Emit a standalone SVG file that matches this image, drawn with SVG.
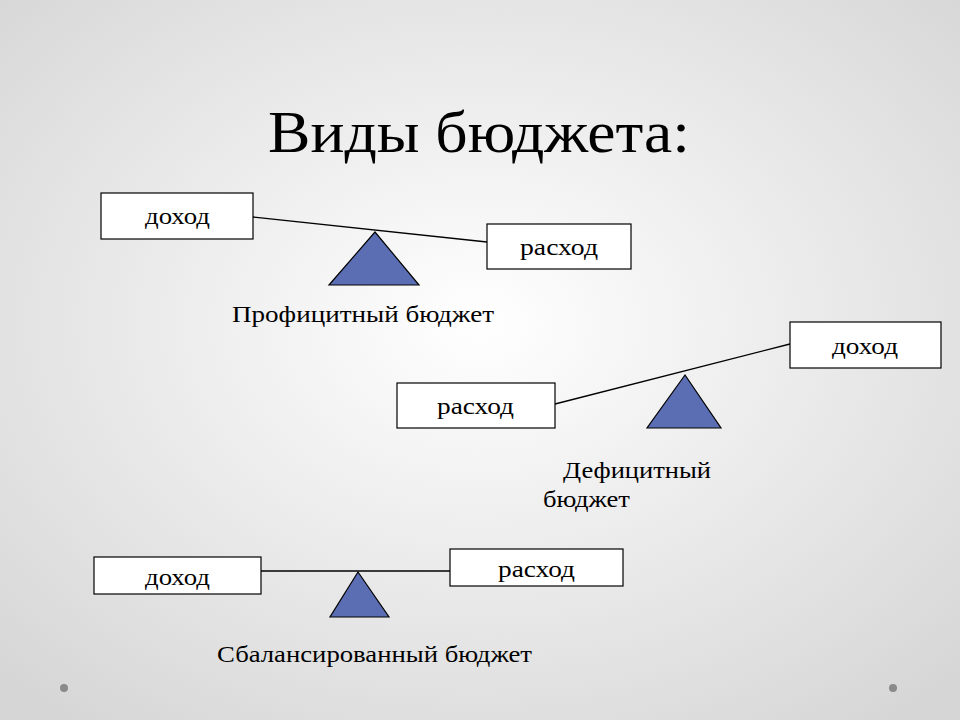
<svg xmlns="http://www.w3.org/2000/svg" width="960" height="720" viewBox="0 0 960 720">
<style>
.box{fill:#fff;stroke:#000;stroke-width:1.2}
.tri{fill:#5b6eb4;stroke:#000;stroke-width:1.2}
.lbl{font-family:"Liberation Serif",serif;font-size:23px;fill:#000}
.cap{font-family:"Liberation Serif",serif;font-size:24px;fill:#000}
.beam{stroke:#000;stroke-width:1.3;fill:none}
</style>
<defs>
<radialGradient id="bg" cx="50%" cy="45%" r="70%">
<stop offset="0" stop-color="#ffffff"/>
<stop offset="1" stop-color="#d6d6d6"/>
</radialGradient>
</defs>
<rect width="960" height="720" fill="url(#bg)"/>
<text x="268" y="152" font-family="Liberation Serif,serif" font-size="60" fill="#000" textLength="422" lengthAdjust="spacingAndGlyphs">Виды бюджета:</text>
<g id="connectors">
<line class="beam" x1="253" y1="217" x2="487" y2="242"/>
<line class="beam" x1="555" y1="404" x2="790" y2="344"/>
<line class="beam" x1="261" y1="571" x2="450" y2="571"/>
</g>
<g id="surplus">
<g id="s-income"><rect class="box" x="101" y="193" width="152" height="46"/><text class="lbl" x="145" y="224" textLength="65" lengthAdjust="spacingAndGlyphs">доход</text></g>
<g id="s-expense"><rect class="box" x="487" y="224" width="144" height="45"/><text class="lbl" x="520" y="255" textLength="78" lengthAdjust="spacingAndGlyphs">расход</text></g>
<polygon class="tri" points="375,232 329,285 419,285"/>
<text class="cap" x="232" y="322" textLength="262" lengthAdjust="spacingAndGlyphs">Профицитный бюджет</text>
</g>
<g id="deficit">
<g id="d-expense"><rect class="box" x="397" y="383" width="158" height="45"/><text class="lbl" x="437" y="414" textLength="77" lengthAdjust="spacingAndGlyphs">расход</text></g>
<g id="d-income"><rect class="box" x="790" y="322" width="151" height="46"/><text class="lbl" x="832" y="354" textLength="66" lengthAdjust="spacingAndGlyphs">доход</text></g>
<polygon class="tri" points="685,375 647,428 721,428"/>
<text class="cap" x="563" y="478" textLength="148" lengthAdjust="spacingAndGlyphs">Дефицитный</text>
<text class="cap" x="543" y="507" textLength="87" lengthAdjust="spacingAndGlyphs">бюджет</text>
</g>
<g id="balanced">
<g id="b-income"><rect class="box" x="94" y="557" width="167" height="37"/><text class="lbl" x="145" y="585" textLength="65" lengthAdjust="spacingAndGlyphs">доход</text></g>
<g id="b-expense"><rect class="box" x="450" y="549" width="173" height="37"/><text class="lbl" x="498" y="577" textLength="77" lengthAdjust="spacingAndGlyphs">расход</text></g>
<polygon class="tri" points="358,572 330,617 389,617"/>
<text class="cap" x="217" y="662" textLength="315" lengthAdjust="spacingAndGlyphs">Сбалансированный бюджет</text>
</g>
<circle cx="64" cy="688" r="4" fill="#8a8a8a"/>
<circle cx="893" cy="688" r="4" fill="#8a8a8a"/>
</svg>
